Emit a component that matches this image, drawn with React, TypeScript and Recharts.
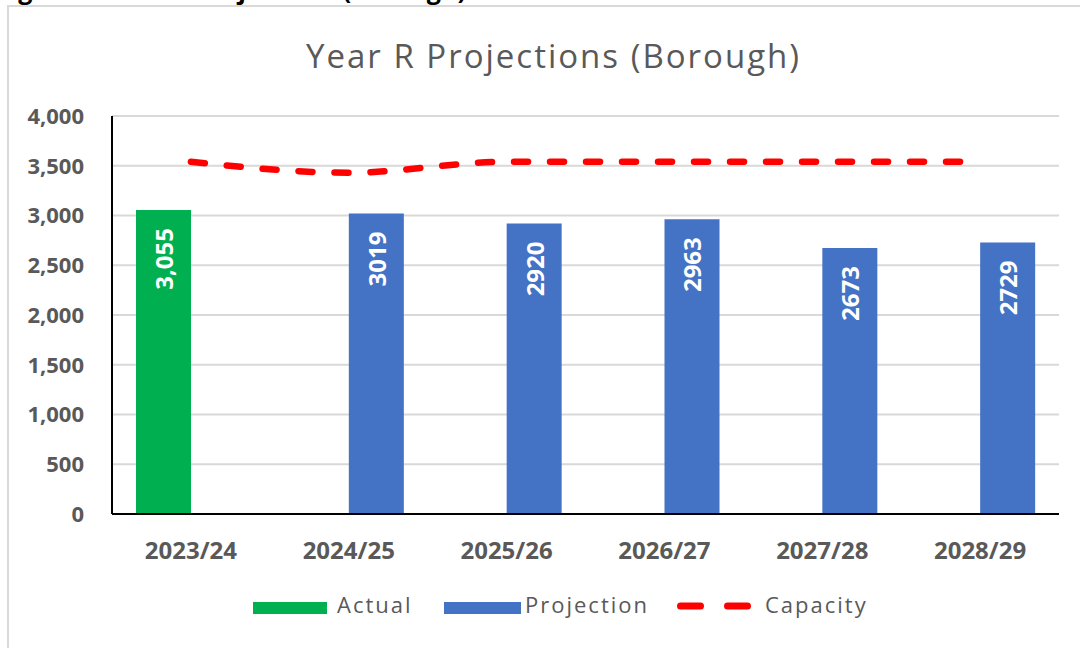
import { Bar, CartesianGrid, ComposedChart, LabelList, Line, XAxis, YAxis } from "recharts";

const years = ["2023/24", "2024/25", "2025/26", "2026/27", "2027/28", "2028/29"];
const actual = [3055, null, null, null, null, null];
const projection = [null, 3019, 2920, 2963, 2673, 2729];
const capacity = [3540, 3430, 3540, 3540, 3540, 3540];
const yTicks = [0, 500, 1000, 1500, 2000, 2500, 3000, 3500, 4000];

const GREEN = "#00b050";
const BLUE = "#4472c4";
const RED = "#ff0000";
const GREY = "#595959";
const FONT = "'Open Sans', sans-serif";

const data = years.map((year, i) => ({
  year,
  actual: actual[i],
  projection: projection[i],
  capacity: capacity[i],
}));

const withComma = (v: number) => v.toLocaleString("en-US");
const plain = (v: number) => String(v);

// white rotated value label, sitting just under the top of the bar
const barLabel = (fmt: (v: number) => string) => (props: any) => {
  const { x, y, width, value } = props;
  if (value == null) return null;
  const cx = Number(x) + Number(width) / 2;
  const ty = Number(y) + 18;
  return (
    <text
      x={cx}
      y={ty}
      transform={`rotate(-90 ${cx} ${ty})`}
      textAnchor="end"
      dominantBaseline="central"
      fill="#ffffff"
      fontSize={24}
      fontWeight={700}
      fontFamily={FONT}
    >
      {fmt(Number(value))}
    </text>
  );
};

export default function App() {
  return (
    <div style={{ position: "absolute", left: 0, top: 0, width: 1080, height: 648, overflow: "hidden", background: "#fff" }}>
      <div
        style={{
          position: "absolute",
          left: 7,
          top: 5,
          width: 1200,
          height: 800,
          border: "2px solid #d9d9d9",
        }}
      />
      <div style={{ position: "absolute", left: 0, top: 0 }}>
        <ComposedChart
          width={1080}
          height={648}
          data={data}
          margin={{ top: 116, right: 21, bottom: 74, left: 12 }}
          barGap={0}
          barSize={55}
        >
          <CartesianGrid vertical={false} stroke="#d9d9d9" strokeWidth={2} />
          <XAxis
            dataKey="year"
            height={60}
            axisLine={{ stroke: "#000", strokeWidth: 2 }}
            tickLine={false}
            tickSize={0}
            tickMargin={28}
            tick={{ fill: GREY, fontSize: 24, fontWeight: 700, fontFamily: FONT }}
          />
          <YAxis
            width={100}
            domain={[0, 4000]}
            ticks={yTicks}
            interval={0}
            axisLine={{ stroke: "#000", strokeWidth: 2 }}
            tickLine={false}
            tickSize={0}
            tickMargin={28}
            tickFormatter={withComma}
            tick={{ fill: GREY, fontSize: 22, fontWeight: 700, fontFamily: FONT }}
          />
          <Bar dataKey="actual" name="Actual" fill={GREEN} isAnimationActive={false}>
            <LabelList dataKey="actual" content={barLabel(withComma)} />
          </Bar>
          <Bar dataKey="projection" name="Projection" fill={BLUE} isAnimationActive={false}>
            <LabelList dataKey="projection" content={barLabel(plain)} />
          </Bar>
          <Line
            dataKey="capacity"
            name="Capacity"
            type="monotone"
            stroke={RED}
            strokeWidth={6.5}
            strokeDasharray="14 22"
            strokeLinecap="round"
            dot={false}
            activeDot={false}
            isAnimationActive={false}
          />
        </ComposedChart>
      </div>
      <svg width={1080} height={648} style={{ position: "absolute", left: 0, top: 0, pointerEvents: "none" }}>
        <text x={-3} y={-1} fontSize={25} fontWeight={700} fontFamily={FONT} fill="#000">
          Figure 2: Year R Projections (Borough)
        </text>
        <text x={306} y={68} fontSize={33} fontFamily={FONT} fill={GREY} letterSpacing={2}>
          Year R Projections (Borough)
        </text>
        <g fontSize={22} fontFamily={FONT} fill={GREY} letterSpacing={2}>
          <rect x={253} y={602} width={74} height={12} fill={GREEN} />
          <text x={337} y={613}>Actual</text>
          <rect x={444} y={602} width={77} height={12} fill={BLUE} />
          <text x={525} y={613}>Projection</text>
          <line
            x1={680.5}
            x2={747.5}
            y1={606}
            y2={606}
            stroke={RED}
            strokeWidth={7}
            strokeLinecap="round"
            strokeDasharray="20 27"
          />
          <text x={765} y={613}>Capacity</text>
        </g>
      </svg>
    </div>
  );
}
